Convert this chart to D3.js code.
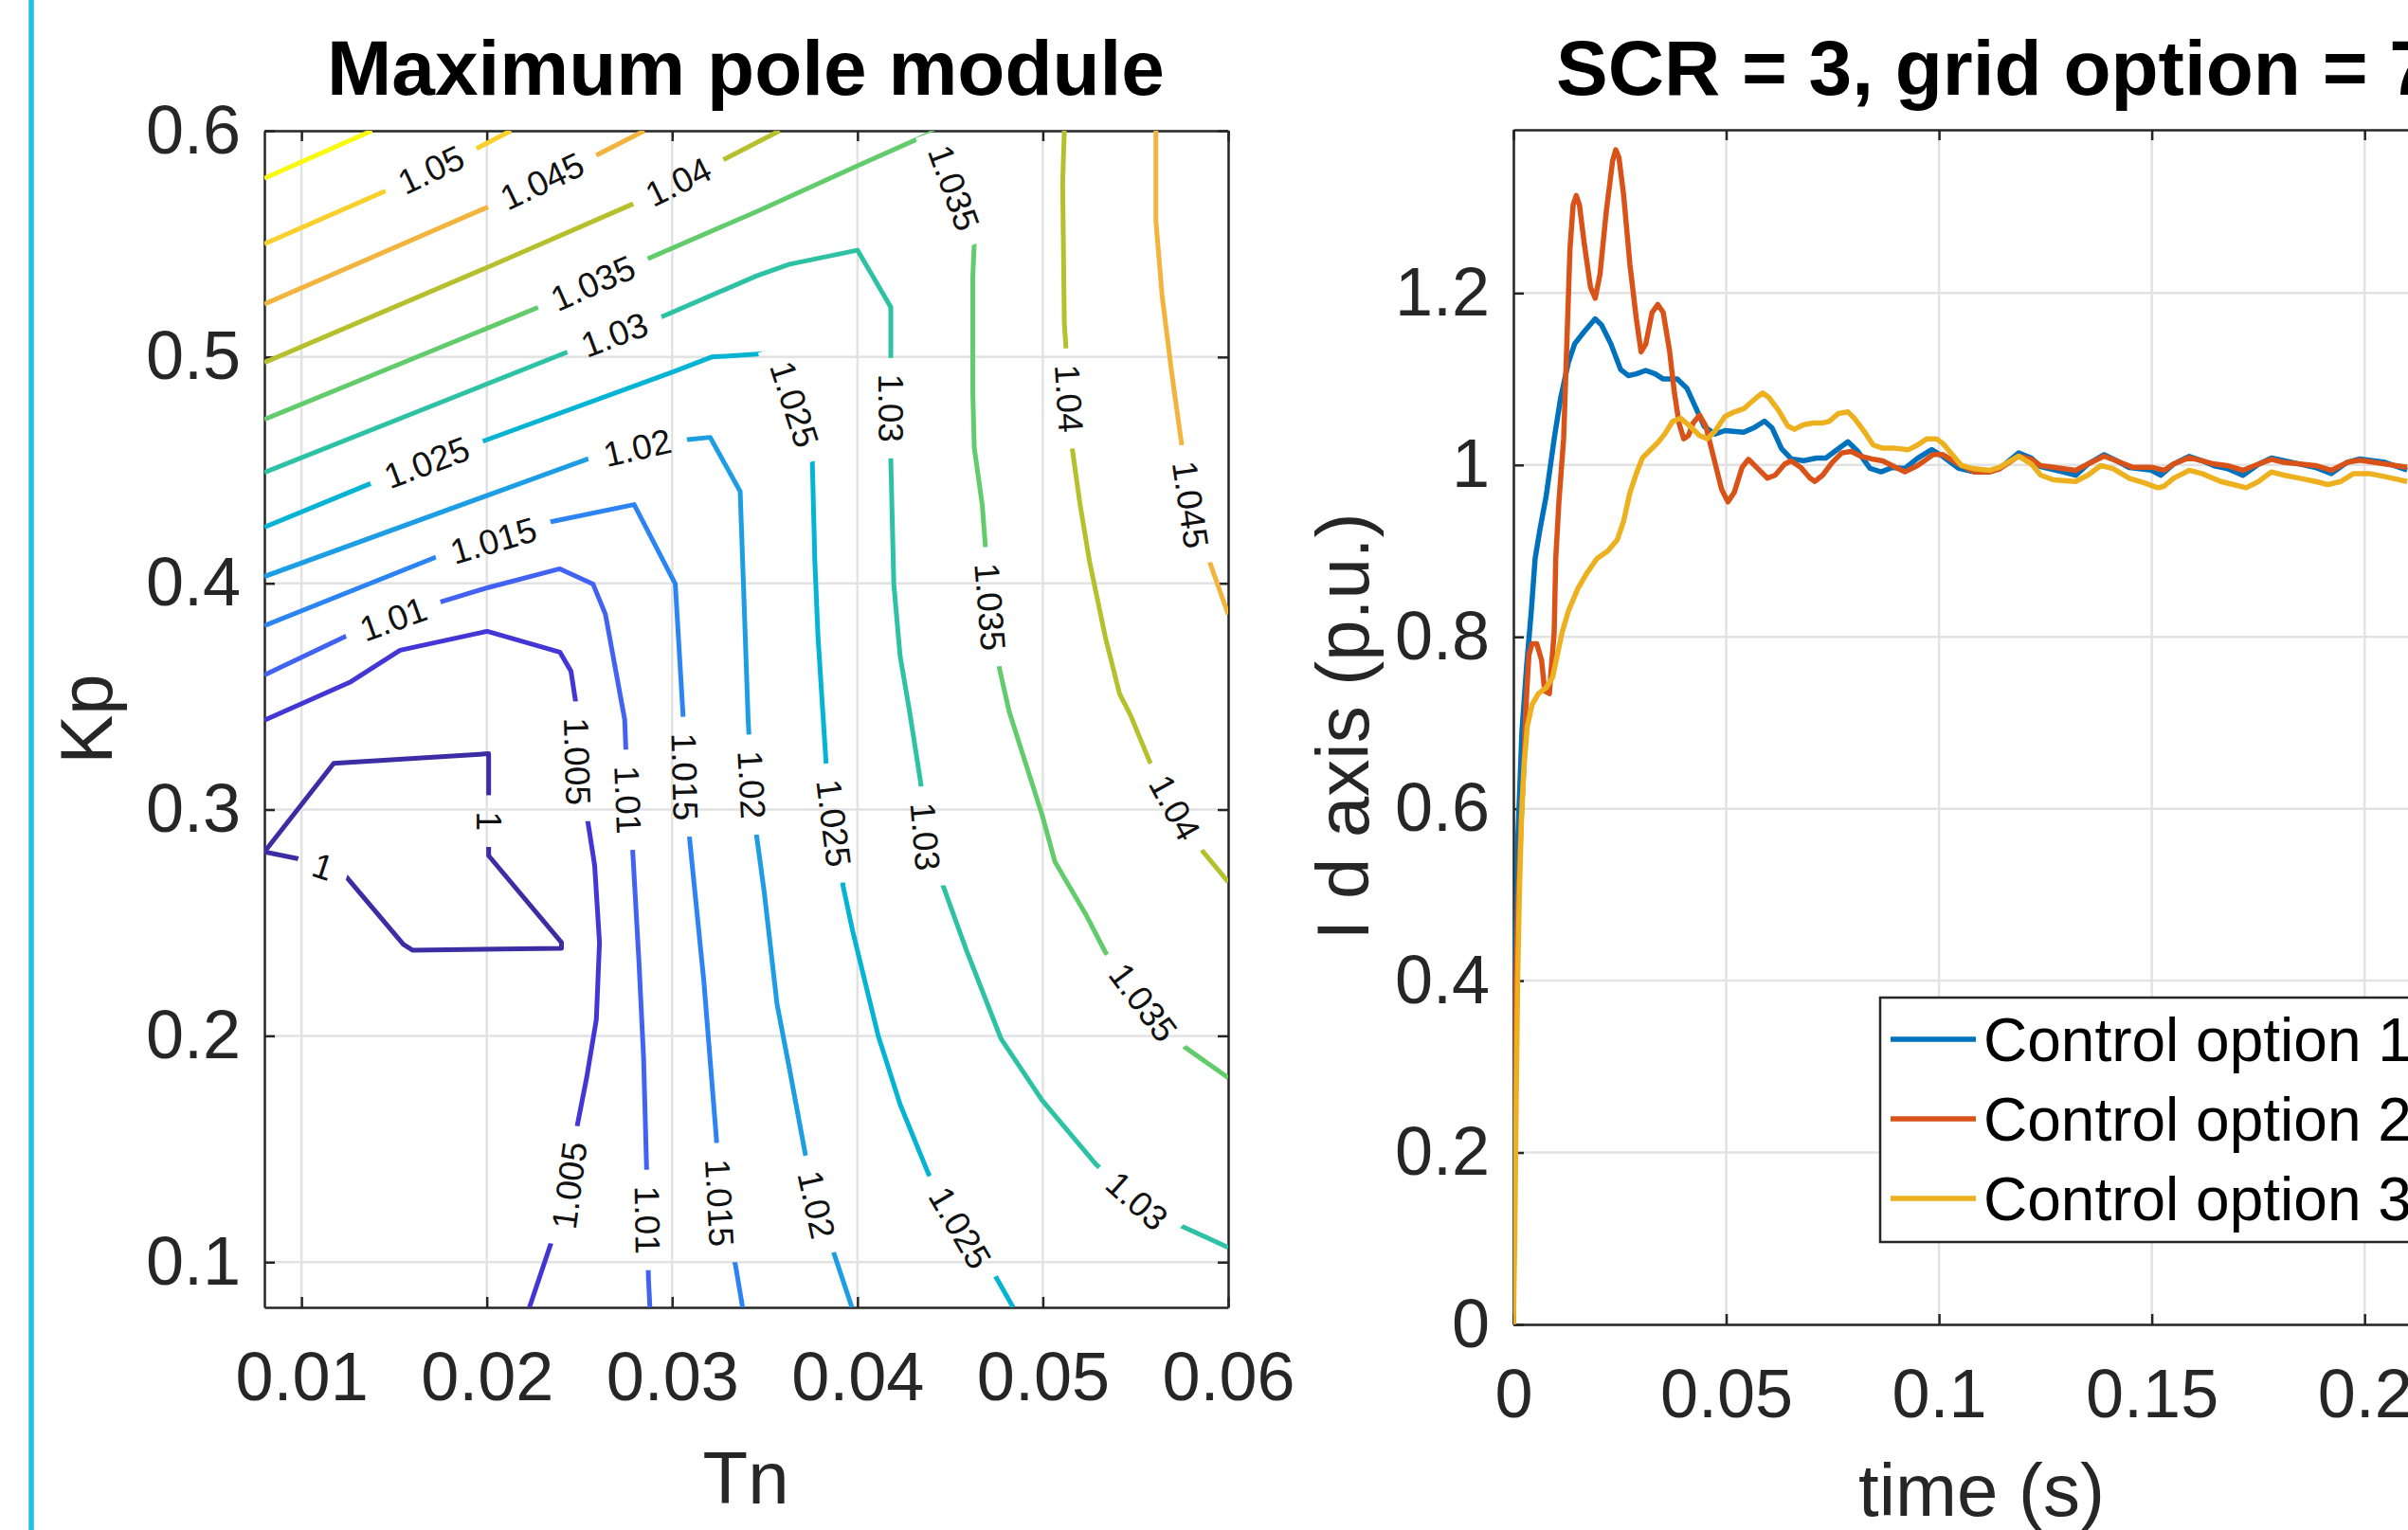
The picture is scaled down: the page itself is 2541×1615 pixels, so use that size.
<!DOCTYPE html>
<html>
<head>
<meta charset="utf-8">
<script src="https://cdn.jsdelivr.net/npm/d3@7"></script>
<style>
  body { margin: 0; background: #fff; }
  svg { display: block; font-family: "Liberation Sans", Arial, Helvetica, sans-serif; }
</style>
</head>
<body>
<svg id="chart" width="2541" height="1615"></svg>
<script>
// ---- Left panel: contour lines of the maximum pole module, [Tn, Kp] points ----
const lv1000 = [[0.008,0.2813],[0.01174,0.3204],[0.0201,0.3247],[0.0201,0.2796],[0.02403,0.2412],[0.02403,0.2387],[0.01601,0.2378],[0.0155,0.2404],[0.01225,0.2719],[0.01003,0.2779],[0.008,0.2813]];
const lv1005 = [[0.008,0.3395],[0.0126,0.3562],[0.01532,0.3704],[0.02002,0.3788],[0.02394,0.3696],[0.02454,0.3612],[0.02479,0.3478],[0.02488,0.3213],[0.02548,0.2932],[0.02582,0.2753],[0.02608,0.2412],[0.02591,0.2072],[0.02539,0.1816],[0.02488,0.1603],[0.02445,0.1339],[0.02343,0.1075],[0.0223,0.08]];
const lv1010 = [[0.008,0.3595],[0.01251,0.3771],[0.01763,0.3921],[0.02002,0.398],[0.02394,0.4064],[0.02573,0.3997],[0.0264,0.3863],[0.02744,0.3398],[0.02761,0.3043],[0.02787,0.2821],[0.02821,0.2327],[0.02846,0.1901],[0.02863,0.139],[0.02872,0.093],[0.0288,0.08]];
const lv1015 = [[0.008,0.3813],[0.0172,0.4114],[0.02036,0.4189],[0.02352,0.4273],[0.02795,0.4348],[0.03017,0.3997],[0.0306,0.3398],[0.03068,0.3145],[0.03094,0.2872],[0.03171,0.2242],[0.03239,0.1543],[0.03256,0.1262],[0.03341,0.099],[0.0338,0.08]];
const lv1020 = [[0.008,0.403],[0.02539,0.4548],[0.02812,0.4599],[0.03085,0.4635],[0.03205,0.4645],[0.03367,0.4406],[0.03384,0.4013],[0.0341,0.3398],[0.03429,0.311],[0.03455,0.2889],[0.03497,0.2634],[0.03566,0.214],[0.03634,0.185],[0.03719,0.1475],[0.03779,0.1254],[0.03872,0.1041],[0.0397,0.08]];
const lv1025 = [[0.008,0.4248],[0.0137,0.444],[0.01993,0.4632],[0.03,0.4933],[0.03213,0.5],[0.0346,0.5013],[0.0357,0.502],[0.03756,0.4548],[0.0377,0.4097],[0.03787,0.3763],[0.0383,0.3213],[0.03872,0.294],[0.03923,0.2659],[0.03974,0.2463],[0.04111,0.2003],[0.0423,0.1697],[0.04383,0.139],[0.04554,0.1152],[0.0475,0.093],[0.0484,0.08]];
const lv1030 = [[0.008,0.449],[0.0242,0.5017],[0.0294,0.5176],[0.0346,0.536],[0.03634,0.541],[0.04,0.5472],[0.0418,0.522],[0.0418,0.454],[0.04196,0.3997],[0.0423,0.3679],[0.04281,0.3434],[0.04341,0.3119],[0.04366,0.2881],[0.0446,0.2668],[0.04588,0.2378],[0.04775,0.1986],[0.04997,0.1714],[0.05286,0.1433],[0.05508,0.1271],[0.05746,0.116],[0.06,0.1065]];
const lv1035 = [[0.008,0.4724],[0.0227,0.5217],[0.0287,0.5435],[0.0346,0.5644],[0.04,0.5845],[0.0441,0.5995],[0.0463,0.5502],[0.04622,0.5351],[0.04622,0.485],[0.0463,0.4599],[0.04673,0.4348],[0.0469,0.4164],[0.04716,0.3896],[0.04767,0.362],[0.04818,0.3434],[0.04997,0.2974],[0.05065,0.277],[0.05235,0.2532],[0.05337,0.237],[0.05542,0.2148],[0.05763,0.1952],[0.06,0.1815]];
const lv1040a = [[0.008,0.4975],[0.02,0.5395],[0.0279,0.5677],[0.0329,0.5878],[0.0358,0.6]];
const lv1040b = [[0.05116,0.6],[0.05107,0.5769],[0.05116,0.5151],[0.05124,0.505],[0.05158,0.4599],[0.05201,0.4348],[0.05252,0.4097],[0.05337,0.3763],[0.05414,0.3512],[0.05474,0.3415],[0.05576,0.3213],[0.05712,0.3009],[0.05865,0.2813],[0.06,0.268]];
const lv1045a = [[0.008,0.5234],[0.02,0.5661],[0.026,0.5895],[0.0285,0.6]];
const lv1045b = [[0.0561,0.6],[0.0561,0.5602],[0.05644,0.5268],[0.05695,0.4933],[0.05746,0.4632],[0.05797,0.4348],[0.05899,0.4097],[0.06,0.3863]];
const lv1050 = [[0.008,0.55],[0.0146,0.5736],[0.0196,0.5928],[0.0213,0.6]];
const lv1055 = [[0.008,0.579],[0.0138,0.6]];

const contourLines = [
    [1, lv1000], [1.005, lv1005], [1.01, lv1010], [1.015, lv1015], [1.02, lv1020],
    [1.025, lv1025], [1.03, lv1030], [1.035, lv1035], [1.04, lv1040a], [1.04, lv1040b],
    [1.045, lv1045a], [1.045, lv1045b], [1.05, lv1050], [1.055, lv1055]
];

const levels = [1, 1.005, 1.01, 1.015, 1.02, 1.025, 1.03, 1.035, 1.04, 1.045, 1.05, 1.055];
const levelColors = ["#3c2da4", "#4436d6", "#4262f2", "#2c84f4", "#1d9ee4", "#05b4d2",
                     "#2ec2a4", "#62cc6c", "#b6c02c", "#f2b43c", "#f8d02c", "#f8f810"];

// inline labels: [level, Tn, Kp]
const contourLabels = [
    [1.05,0.01703,0.582],[1.045,0.023,0.5775],[1.04,0.0303,0.578],[1.035,0.02573,0.5326],
    [1.03,0.02684,0.5109],[1.025,0.01677,0.4532],[1.02,0.02812,0.4599],[1.015,0.02036,0.4189],
    [1.01,0.0149,0.3854],[1.035,0.0451,0.5744],[1.025,0.03693,0.48],[1.03,0.04162,0.4774],
    [1.04,0.05124,0.4816],[1.045,0.05797,0.4348],[1.035,0.04716,0.3896],[1.005,0.02488,0.3213],
    [1.01,0.02761,0.3043],[1.015,0.03068,0.3145],[1.02,0.03429,0.311],[1.025,0.03872,0.294],
    [1.03,0.04366,0.2881],[1.04,0.05712,0.3009],[1,0.02002,0.2949],[1,0.01114,0.2744],
    [1.035,0.05542,0.2148],[1.03,0.05508,0.1271],[1.025,0.04554,0.1152],[1.02,0.03779,0.1254],
    [1.015,0.03256,0.1262],[1.01,0.02863,0.1186],[1.005,0.02445,0.1339]
];

const tnTicks = [0.01, 0.02, 0.03, 0.04, 0.05, 0.06];
const tnLabels = ["0.01", "0.02", "0.03", "0.04", "0.05", "0.06"];
const kpTicks = [0.1, 0.2, 0.3, 0.4, 0.5, 0.6];
const kpLabels = ["0.1", "0.2", "0.3", "0.4", "0.5", "0.6"];

// ---- Right panel: I d axis step responses, [time, value] ----
const option1 = [[0,0],[0.0002,0.22],[0.0005,0.42],[0.001,0.56],[0.002,0.69],[0.0031,0.766],[0.0042,0.83],[0.0051,0.891],[0.0062,0.924],[0.0077,0.964],[0.0096,1.031],[0.0111,1.078],[0.0129,1.119],[0.0144,1.141],[0.0166,1.155],[0.0192,1.17],[0.0207,1.163],[0.0229,1.141],[0.0252,1.111],[0.027,1.104],[0.0289,1.106],[0.0311,1.11],[0.0333,1.106],[0.0352,1.1],[0.0385,1.1],[0.0408,1.089],[0.043,1.065],[0.0448,1.045],[0.0474,1.036],[0.0497,1.04],[0.0541,1.038],[0.0564,1.043],[0.059,1.051],[0.0608,1.043],[0.063,1.019],[0.0653,1.007],[0.0682,1.005],[0.0712,1.008],[0.0734,1.008],[0.0764,1.019],[0.0786,1.027],[0.0809,1.016],[0.0838,0.996],[0.0864,0.992],[0.089,0.997],[0.092,0.996],[0.095,1.008],[0.0983,1.018],[0.1009,1.01],[0.1046,0.996],[0.1083,0.992],[0.1106,0.992],[0.1143,0.996],[0.1187,1.014],[0.1217,1.008],[0.1239,0.998],[0.1291,0.992],[0.1321,0.988],[0.135,1.001],[0.1388,1.012],[0.1417,1.005],[0.1447,0.997],[0.1499,0.994],[0.1521,0.988],[0.1551,1.001],[0.1588,1.01],[0.1618,1.005],[0.1647,0.999],[0.1677,0.996],[0.1714,0.988],[0.1751,1.001],[0.1781,1.008],[0.181,1.005],[0.1848,1.001],[0.1885,0.997],[0.1922,0.99],[0.1959,1.003],[0.1989,1.007],[0.2048,1.003],[0.21,0.994]];
const option2 = [[0,0],[0.0002,0.2],[0.00045,0.363],[0.00104,0.485],[0.00178,0.581],[0.00252,0.657],[0.0029,0.715],[0.00364,0.779],[0.00438,0.792],[0.00549,0.792],[0.00661,0.773],[0.00735,0.737],[0.00846,0.734],[0.00884,0.76],[0.00958,0.805],[0.00995,0.891],[0.01069,0.957],[0.0118,1.0305],[0.01255,1.1408],[0.01329,1.251],[0.01403,1.3025],[0.01477,1.3135],[0.01552,1.3025],[0.01663,1.2584],[0.01811,1.2069],[0.01923,1.194],[0.02034,1.2216],[0.02183,1.2951],[0.02331,1.3539],[0.02405,1.3668],[0.0248,1.3576],[0.02591,1.3135],[0.02739,1.2326],[0.02888,1.1702],[0.03,1.1316],[0.03111,1.1408],[0.03259,1.1775],[0.03393,1.1867],[0.03519,1.1775],[0.03667,1.1334],[0.03779,1.0856],[0.0389,1.0489],[0.04001,1.0305],[0.04113,1.0342],[0.04224,1.0489],[0.04373,1.0581],[0.04521,1.0452],[0.04707,1.0085],[0.04892,0.9717],[0.05041,0.957],[0.05189,0.968],[0.05375,0.9974],[0.05523,1.0066],[0.05709,0.9974],[0.05969,0.9846],[0.06154,0.9882],[0.06377,1.0011],[0.06526,1.0048],[0.06748,0.9974],[0.06971,0.9846],[0.07082,0.9809],[0.07268,0.9882],[0.07491,1.0029],[0.07713,1.014],[0.07936,1.0158],[0.08159,1.0103],[0.08456,1.0066],[0.08678,1.0048],[0.08901,0.9993],[0.09198,0.9919],[0.09495,0.9993],[0.09866,1.0121],[0.1009,1.0121],[0.1046,1.0011],[0.1083,0.9919],[0.112,0.9919],[0.1143,0.9956],[0.1187,1.0103],[0.1217,1.0066],[0.1239,0.9993],[0.1269,0.9974],[0.1321,0.9938],[0.135,1.0011],[0.1388,1.0103],[0.1417,1.0048],[0.1454,0.9974],[0.1499,0.9974],[0.1529,0.9938],[0.1551,1.0011],[0.1588,1.0085],[0.1618,1.0048],[0.1647,1.0011],[0.1677,0.9993],[0.1714,0.9938],[0.1751,1.0011],[0.1781,1.0066],[0.181,1.003],[0.1848,1.0011],[0.1885,0.9993],[0.1922,0.9938],[0.1959,1.003],[0.1989,1.0055],[0.2048,1.0011],[0.21,0.9974]];
const option3 = [[0,0],[0.0003,0.094],[0.00067,0.267],[0.00104,0.414],[0.00141,0.504],[0.00193,0.593],[0.00252,0.651],[0.00327,0.696],[0.00438,0.721],[0.00587,0.734],[0.00772,0.741],[0.00921,0.753],[0.01032,0.779],[0.01143,0.805],[0.01292,0.83],[0.01514,0.856],[0.01737,0.875],[0.0196,0.891],[0.0222,0.9],[0.02442,0.913],[0.02591,0.935],[0.02739,0.968],[0.02888,0.99],[0.03036,1.0085],[0.03185,1.0158],[0.03408,1.0268],[0.03556,1.036],[0.03742,1.0507],[0.03927,1.0544],[0.0415,1.0452],[0.04373,1.0342],[0.04558,1.0305],[0.04744,1.0397],[0.04967,1.0562],[0.05189,1.0617],[0.05412,1.0654],[0.05709,1.0783],[0.05857,1.0838],[0.06006,1.0783],[0.06229,1.0636],[0.06451,1.0452],[0.066,1.0415],[0.06823,1.047],[0.07045,1.0489],[0.07268,1.0489],[0.07416,1.0507],[0.07639,1.0599],[0.07862,1.0617],[0.0801,1.0544],[0.08233,1.0397],[0.08456,1.0232],[0.08678,1.0195],[0.08976,1.0195],[0.09272,1.0176],[0.09495,1.0232],[0.09718,1.0305],[0.09941,1.0305],[0.1009,1.025],[0.1031,1.0121],[0.1053,0.9993],[0.1083,0.9956],[0.112,0.9938],[0.1143,0.9974],[0.1187,1.0103],[0.1217,1.0011],[0.1239,0.9882],[0.1269,0.9827],[0.1321,0.9808],[0.135,0.9882],[0.138,0.9993],[0.141,0.9956],[0.1447,0.9845],[0.1484,0.979],[0.1514,0.9735],[0.1529,0.9753],[0.1551,0.9845],[0.1588,0.9938],[0.1618,0.99],[0.1662,0.9808],[0.1692,0.9772],[0.1722,0.9735],[0.1751,0.9808],[0.1781,0.9919],[0.181,0.9882],[0.1848,0.9845],[0.1885,0.9808],[0.1914,0.9772],[0.1944,0.9808],[0.1974,0.99],[0.2011,0.99],[0.2048,0.9864],[0.21,0.9808]];

const seriesNames = ["Control option 1", "Control option 2", "Control option 3"];
const seriesColors = ["#0072BD", "#D95319", "#EDB120"];

const timeTicks = [0, 0.05, 0.1, 0.15, 0.2];
const timeLabels = ["0", "0.05", "0.1", "0.15", "0.2"];
const idTicks = [0, 0.2, 0.4, 0.6, 0.8, 1, 1.2];
const idLabels = ["0", "0.2", "0.4", "0.6", "0.8", "1", "1.2"];

// ---- Drawing ----
const svg = d3.select("#chart");
const axisColor = "#262626";
const gridColor = "#e2e2e2";

// cyan bar at the left margin
svg.append("line")
    .attr("x1", 33).attr("x2", 33).attr("y1", 0).attr("y2", 1615)
    .attr("stroke", "#22bfe3").attr("stroke-width", 5.5);

function drawFrame(x, y, xTicks, xLabels, yTicks, yLabels) {
    const [x0, x1] = x.range();
    const [y0, y1] = y.range();
    const g = svg.append("g");

    // grid
    g.selectAll(".vgrid").data(xTicks).enter().append("line")
        .attr("x1", d => x(d)).attr("x2", d => x(d)).attr("y1", y0).attr("y2", y1)
        .attr("stroke", gridColor).attr("stroke-width", 2.5);
    g.selectAll(".hgrid").data(yTicks).enter().append("line")
        .attr("x1", x0).attr("x2", x1).attr("y1", d => y(d)).attr("y2", d => y(d))
        .attr("stroke", gridColor).attr("stroke-width", 2.5);

    const styleAxis = sel => {
        sel.attr("font-family", null).attr("font-size", 72);
        sel.selectAll("path, line").attr("stroke", axisColor).attr("stroke-width", 2.5);
        sel.selectAll("text").attr("fill", axisColor);
    };

    g.append("g").attr("transform", `translate(0,${y0})`)
        .call(d3.axisBottom(x).tickValues(xTicks).tickFormat((d, i) => xLabels[i])
            .tickSize(-11).tickSizeOuter(0).tickPadding(47))
        .call(styleAxis);
    g.append("g").attr("transform", `translate(0,${y1})`)
        .call(d3.axisTop(x).tickValues(xTicks).tickFormat("").tickSize(-11).tickSizeOuter(0))
        .call(styleAxis);
    g.append("g").attr("transform", `translate(${x0},0)`)
        .call(d3.axisLeft(y).tickValues(yTicks).tickFormat((d, i) => yLabels[i])
            .tickSize(-11).tickSizeOuter(0).tickPadding(25))
        .call(styleAxis);
    g.append("g").attr("transform", `translate(${x1},0)`)
        .call(d3.axisRight(y).tickValues(yTicks).tickFormat("").tickSize(-11).tickSizeOuter(0))
        .call(styleAxis);
    return g;
}

// Left panel
const xC = d3.scaleLinear().domain([0.008, 0.06]).range([279, 1296]);
const yC = d3.scaleLinear().domain([0.08, 0.6]).range([1380, 138]);
const colorOf = lv => levelColors[levels.indexOf(lv)];

const defs = svg.append("defs");
defs.append("clipPath").attr("id", "clipC").append("rect")
    .attr("x", 279).attr("y", 138).attr("width", 1017).attr("height", 1242);
const labelMask = defs.append("mask").attr("id", "labelMask")
    .attr("maskUnits", "userSpaceOnUse")
    .attr("x", 0).attr("y", 0).attr("width", 2541).attr("height", 1615);
labelMask.append("rect").attr("width", 2541).attr("height", 1615).attr("fill", "white");

drawFrame(xC, yC, tnTicks, tnLabels, kpTicks, kpLabels);

const contourG = svg.append("g").attr("clip-path", "url(#clipC)")
    .append("g").attr("mask", "url(#labelMask)");
const cLine = d3.line().x(d => xC(d[0])).y(d => yC(d[1]));
contourG.selectAll("path").data(contourLines).enter().append("path")
    .attr("d", d => cLine(d[1]))
    .attr("fill", "none")
    .attr("stroke", d => colorOf(d[0]))
    .attr("stroke-width", 5)
    .attr("stroke-linejoin", "round");

// snap a label onto its contour and take the local direction
function placeLabel(level, tn, kp) {
    const px = xC(tn), py = yC(kp);
    let best = null;
    contourLines.filter(c => c[0] === level).forEach(c => {
        const pts = c[1].map(p => [xC(p[0]), yC(p[1])]);
        for (let i = 0; i < pts.length - 1; i++) {
            const [ax, ay] = pts[i], [bx, by] = pts[i + 1];
            const dx = bx - ax, dy = by - ay;
            const len2 = dx * dx + dy * dy || 1;
            const u = Math.max(0, Math.min(1, ((px - ax) * dx + (py - ay) * dy) / len2));
            const qx = ax + u * dx, qy = ay + u * dy;
            const dist = (qx - px) ** 2 + (qy - py) ** 2;
            if (!best || dist < best.dist) {
                best = { dist, x: qx, y: qy, ang: Math.atan2(dy, dx) * 180 / Math.PI };
            }
        }
    });
    let a = best.ang;
    if (a > 90) a -= 180;
    if (a <= -90) a += 180;
    return { x: best.x, y: best.y, angle: a };
}

const labelG = svg.append("g");
contourLabels.forEach(([lv, tn, kp]) => {
    const p = placeLabel(lv, tn, kp);
    const tr = `translate(${p.x},${p.y}) rotate(${p.angle})`;
    const txt = labelG.append("text")
        .attr("transform", tr)
        .attr("text-anchor", "middle")
        .attr("dy", "0.35em")
        .attr("font-size", 37)
        .attr("fill", "#111")
        .text(String(lv));
    const w = txt.node().getComputedTextLength() + 34;
    labelMask.append("rect")
        .attr("transform", tr)
        .attr("x", -w / 2).attr("y", -20).attr("width", w).attr("height", 40)
        .attr("fill", "black");
});

svg.append("text").attr("x", 787).attr("y", 100)
    .attr("text-anchor", "middle").attr("font-size", 82).attr("font-weight", "bold")
    .attr("fill", "#000").text("Maximum pole module");
svg.append("text").attr("x", 787).attr("y", 1587)
    .attr("text-anchor", "middle").attr("font-size", 78).attr("fill", axisColor).text("Tn");
svg.append("text").attr("transform", "translate(118,759) rotate(-90)")
    .attr("text-anchor", "middle").attr("font-size", 78).attr("fill", axisColor).text("Kp");

// Right panel
const xT = d3.scaleLinear().domain([0, 0.22]).range([1597, 2585]);
const yT = d3.scaleLinear().domain([0, 1.39]).range([1398, 137]);

defs.append("clipPath").attr("id", "clipT").append("rect")
    .attr("x", 1597).attr("y", 137).attr("width", 988).attr("height", 1261);

drawFrame(xT, yT, timeTicks, timeLabels, idTicks, idLabels);

const tLine = d3.line().x(d => xT(d[0])).y(d => yT(d[1]));
svg.append("g").attr("clip-path", "url(#clipT)")
    .selectAll("path").data([option1, option2, option3]).enter().append("path")
    .attr("d", tLine)
    .attr("fill", "none")
    .attr("stroke", (d, i) => seriesColors[i])
    .attr("stroke-width", 5.5)
    .attr("stroke-linejoin", "round");

svg.append("text").attr("x", 1642).attr("y", 100)
    .attr("font-size", 82).attr("font-weight", "bold")
    .attr("fill", "#000").text("SCR = 3, grid option = 7");
svg.append("text").attr("x", 2091).attr("y", 1600)
    .attr("text-anchor", "middle").attr("font-size", 78).attr("fill", axisColor).text("time (s)");
svg.append("text").attr("transform", "translate(1444,767) rotate(-90)")
    .attr("text-anchor", "middle").attr("font-size", 78).attr("fill", axisColor).text("I d axis (p.u.)");

// legend
const legend = svg.append("g");
legend.append("rect").attr("x", 1984).attr("y", 1053).attr("width", 600).attr("height", 258)
    .attr("fill", "#fff").attr("stroke", axisColor).attr("stroke-width", 2.5);
seriesNames.forEach((name, i) => {
    const yy = 1097 + i * 84;
    legend.append("line").attr("x1", 1995).attr("x2", 2085).attr("y1", yy).attr("y2", yy)
        .attr("stroke", seriesColors[i]).attr("stroke-width", 5.5);
    legend.append("text").attr("x", 2093).attr("y", yy + 23)
        .attr("font-size", 64).attr("fill", "#000").text(name);
});
</script>
</body>
</html>
